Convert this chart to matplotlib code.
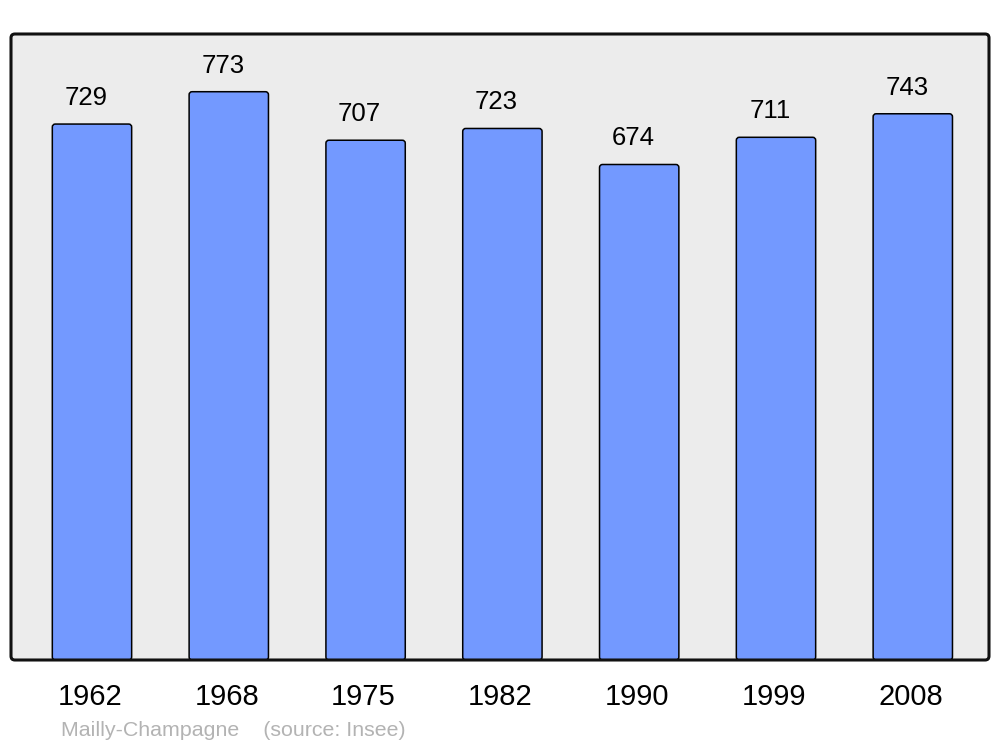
import matplotlib
matplotlib.use("Agg")
import matplotlib.pyplot as plt
import matplotlib.transforms as mtransforms
from matplotlib.patches import FancyBboxPatch

years = ["1962", "1968", "1975", "1982", "1990", "1999", "2008"]
population = [729, 773, 707, 723, 674, 711, 743]
footer = "Mailly-Champagne    (source: Insee)"

plt.rcParams['font.family'] = ['Liberation Sans', 'DejaVu Sans']

fig = plt.figure(figsize=(10, 7.47), dpi=100)
ax = fig.add_axes([0.011, 1 - 660 / 747, 0.978, (660 - 34) / 747])
ax.set_xlim(-0.592, 6.557)
ax.set_ylim(0, 851.5)
ax.patch.set_visible(False)
for s in ax.spines.values():
    s.set_visible(False)

# frame background and edge
bg = FancyBboxPatch((0, 0), 1, 1, boxstyle="round,pad=0,rounding_size=0.004",
                    transform=ax.transAxes, facecolor="#ececec", edgecolor="none",
                    zorder=0, clip_on=False, mutation_aspect=978 / 626)
ax.add_patch(bg)
edge = FancyBboxPatch((0, 0), 1, 1, boxstyle="round,pad=0,rounding_size=0.004",
                      transform=ax.transAxes, facecolor="none", edgecolor="#111111",
                      linewidth=2.2, zorder=5, clip_on=False, mutation_aspect=978 / 626)
ax.add_patch(edge)

bars = ax.bar(range(len(years)), population, width=0.58, color="#7399ff",
              edgecolor="black", linewidth=1.1, zorder=2)
px_x = 978 / (6.557 + 0.592)
px_y = 626 / 851.5
for b in bars:
    x, y, w, h = b.get_x(), b.get_y(), b.get_width(), b.get_height()
    b.set_visible(False)
    r = 3.0 / px_x
    p = FancyBboxPatch((x, y), w, h, boxstyle=f"round,pad=0,rounding_size={r}",
                       mutation_aspect=(px_x / px_y), facecolor="#7399ff",
                       edgecolor="black", linewidth=1.1, zorder=2)
    ax.add_patch(p)

for i, v in enumerate(population):
    ax.annotate(str(v), (i, v), xytext=(-6, 14), textcoords="offset pixels",
                ha="center", va="bottom", fontsize=18.5, color="black")

ax.set_xticks(range(len(years)), years)
ax.tick_params(axis="x", length=0, pad=16.5, labelsize=21)
ax.set_yticks([])
shift = mtransforms.ScaledTranslation(-2 / 100, 0, fig.dpi_scale_trans)
for lbl in ax.get_xticklabels():
    lbl.set_transform(lbl.get_transform() + shift)

fig.text(0.061, 1 - 731 / 747, footer, ha="left", va="center",
         fontsize=15.4, color="#b3b3b3")

fig.savefig("out.png", dpi=100)
